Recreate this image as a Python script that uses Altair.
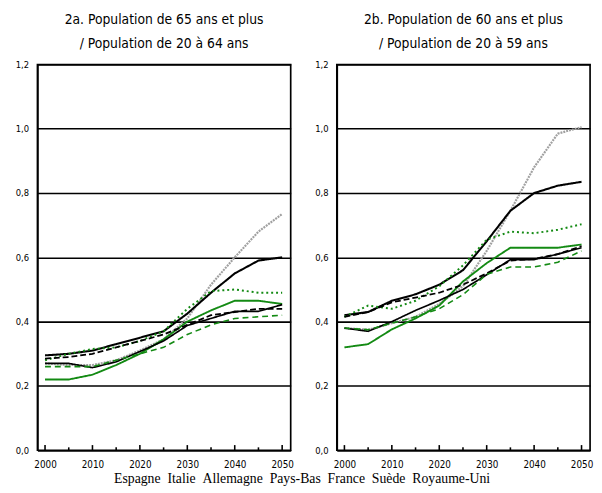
import altair as alt
import pandas as pd

years = [2000, 2005, 2010, 2015, 2020, 2025, 2030, 2035, 2040, 2045, 2050]
pays = ["Espagne", "Italie", "Allemagne", "Pays-Bas", "France", "Suède", "Royaume-Uni"]
couleurs = ["#a0a0a0", "#000000", "#138a13", "#138a13", "#000000", "#000000", "#138a13"]
tirets = [[2, 1], [1, 0], [2, 3], [1, 0], [6, 3], [1, 0], [6, 4]]
epaisseurs = [2.2, 1.6, 1.8, 1.6, 1.6, 1.6, 1.6]

# 2a : 65+ / 20-64
a_vals = {
    "Espagne":     [0.27, 0.265, 0.265, 0.28, 0.31, 0.345, 0.41, 0.515, 0.60, 0.68, 0.735],
    "Italie":      [0.295, 0.30, 0.31, 0.33, 0.35, 0.37, 0.425, 0.49, 0.55, 0.59, 0.60],
    "Allemagne":   [0.28, 0.30, 0.315, 0.32, 0.34, 0.37, 0.44, 0.495, 0.50, 0.49, 0.49],
    "Pays-Bas":    [0.22, 0.22, 0.235, 0.265, 0.30, 0.345, 0.40, 0.435, 0.465, 0.465, 0.455],
    "France":      [0.285, 0.29, 0.30, 0.32, 0.34, 0.36, 0.39, 0.42, 0.43, 0.44, 0.44],
    "Suède":       [0.27, 0.27, 0.257, 0.275, 0.307, 0.34, 0.388, 0.41, 0.432, 0.432, 0.453],
    "Royaume-Uni": [0.26, 0.26, 0.26, 0.28, 0.30, 0.32, 0.36, 0.39, 0.41, 0.415, 0.42],
}
# 2b : 60+ / 20-59
b_vals = {
    "Espagne":     [0.38, 0.375, 0.395, 0.415, 0.455, 0.51, 0.62, 0.745, 0.88, 0.985, 1.005],
    "Italie":      [0.42, 0.43, 0.465, 0.485, 0.515, 0.56, 0.65, 0.745, 0.80, 0.823, 0.835],
    "Allemagne":   [0.415, 0.45, 0.44, 0.465, 0.51, 0.575, 0.655, 0.68, 0.675, 0.686, 0.703],
    "Pays-Bas":    [0.32, 0.33, 0.376, 0.41, 0.45, 0.525, 0.582, 0.63, 0.63, 0.63, 0.64],
    "France":      [0.415, 0.43, 0.46, 0.475, 0.49, 0.515, 0.55, 0.59, 0.595, 0.61, 0.635],
    "Suède":       [0.38, 0.37, 0.40, 0.435, 0.466, 0.50, 0.546, 0.593, 0.593, 0.61, 0.63],
    "Royaume-Uni": [0.38, 0.375, 0.395, 0.415, 0.44, 0.484, 0.547, 0.57, 0.57, 0.585, 0.62],
}

tick_years = [2000, 2005, 2010, 2015, 2020, 2025, 2030, 2035, 2040, 2045, 2050]
tick_len = [0.016, 0.009, 0.016, 0.009, 0.016, 0.009, 0.016, 0.009, 0.016, 0.009, 0.016]
y_labels = [0.0, 0.2, 0.4, 0.6, 0.8, 1.0, 1.2]
x_labels = [2000, 2010, 2020, 2030, 2040, 2050]


def long_df(vals):
    rows = []
    for p in pays:
        for yr, v in zip(years, vals[p]):
            rows.append({"annee": yr, "ratio": v, "pays": p})
    return pd.DataFrame(rows)


ticks_df = pd.DataFrame({"annee": tick_years, "y0": [0.0] * len(tick_years), "y1": tick_len})

axis_font = "DejaVu Sans Condensed, Liberation Sans Narrow, sans-serif"
title_font = "DejaVu Sans Condensed, Liberation Sans Narrow, sans-serif"
legend_font = "Liberation Serif, Times New Roman, serif"

xscale = alt.Scale(domain=[1998.4, 2051.8], nice=False, zero=False)
yscale = alt.Scale(domain=[0, 1.2], nice=False)


def panel(vals, title_lines):
    lines = alt.Chart(long_df(vals)).mark_line().encode(
        x=alt.X("annee:Q", scale=xscale, title=None,
                axis=alt.Axis(values=x_labels, format="d", ticks=False, grid=False,
                              labelPadding=10, labelFont=axis_font, labelFontSize=10,
                              labelColor="black",
                              domainColor="black", domainWidth=1.6)),
        y=alt.Y("ratio:Q", scale=yscale, title=None,
                axis=alt.Axis(values=y_labels, ticks=False, grid=True, gridColor="black",
                              gridWidth=1.6, gridOpacity=1, labelPadding=9,
                              labelFont=axis_font, labelFontSize=9.5, labelColor="black",
                              labelExpr="replace(format(datum.value, '.1f'), '.', ',')",
                              domainColor="black", domainWidth=1.6)),
        color=alt.Color("pays:N", scale=alt.Scale(domain=pays, range=couleurs), legend=None),
        strokeDash=alt.StrokeDash("pays:N", scale=alt.Scale(domain=pays, range=tirets), legend=None),
        strokeWidth=alt.StrokeWidth("pays:N", scale=alt.Scale(domain=pays, range=epaisseurs), legend=None),
        order=alt.Order("annee:Q"),
    )
    ticks = alt.Chart(ticks_df).mark_rule(color="black", strokeWidth=1.6).encode(
        x=alt.X("annee:Q", scale=xscale),
        y=alt.Y("y0:Q", scale=yscale),
        y2="y1:Q",
    )
    return alt.layer(lines, ticks).properties(
        width=258, height=393,
        title=alt.TitleParams(text=title_lines, font=title_font, fontSize=14,
                              fontWeight="normal", anchor="middle", lineHeight=24,
                              offset=9, color="black"),
    )


pa = panel(a_vals, ["2a. Population de 65 ans et plus", "/ Population de 20 à 64 ans"])
pb = panel(b_vals, ["2b. Population de 60 ans et plus", "/ Population de 20 à 59 ans"])

legend_text = "\u00a0\u00a0".join(pays)

chart = alt.hconcat(pa, pb, spacing=19).properties(
    padding={"left": 6, "top": 0, "right": 0, "bottom": 0},
    background="white",
    title=alt.TitleParams(text=legend_text, orient="bottom", anchor="middle",
                          font=legend_font, fontSize=14, fontWeight="normal",
                          color="black", offset=2, dx=-2),
).configure_view(stroke="black", strokeWidth=1.7)

chart.save("out.html", embed_options={"renderer": "svg", "actions": False})
